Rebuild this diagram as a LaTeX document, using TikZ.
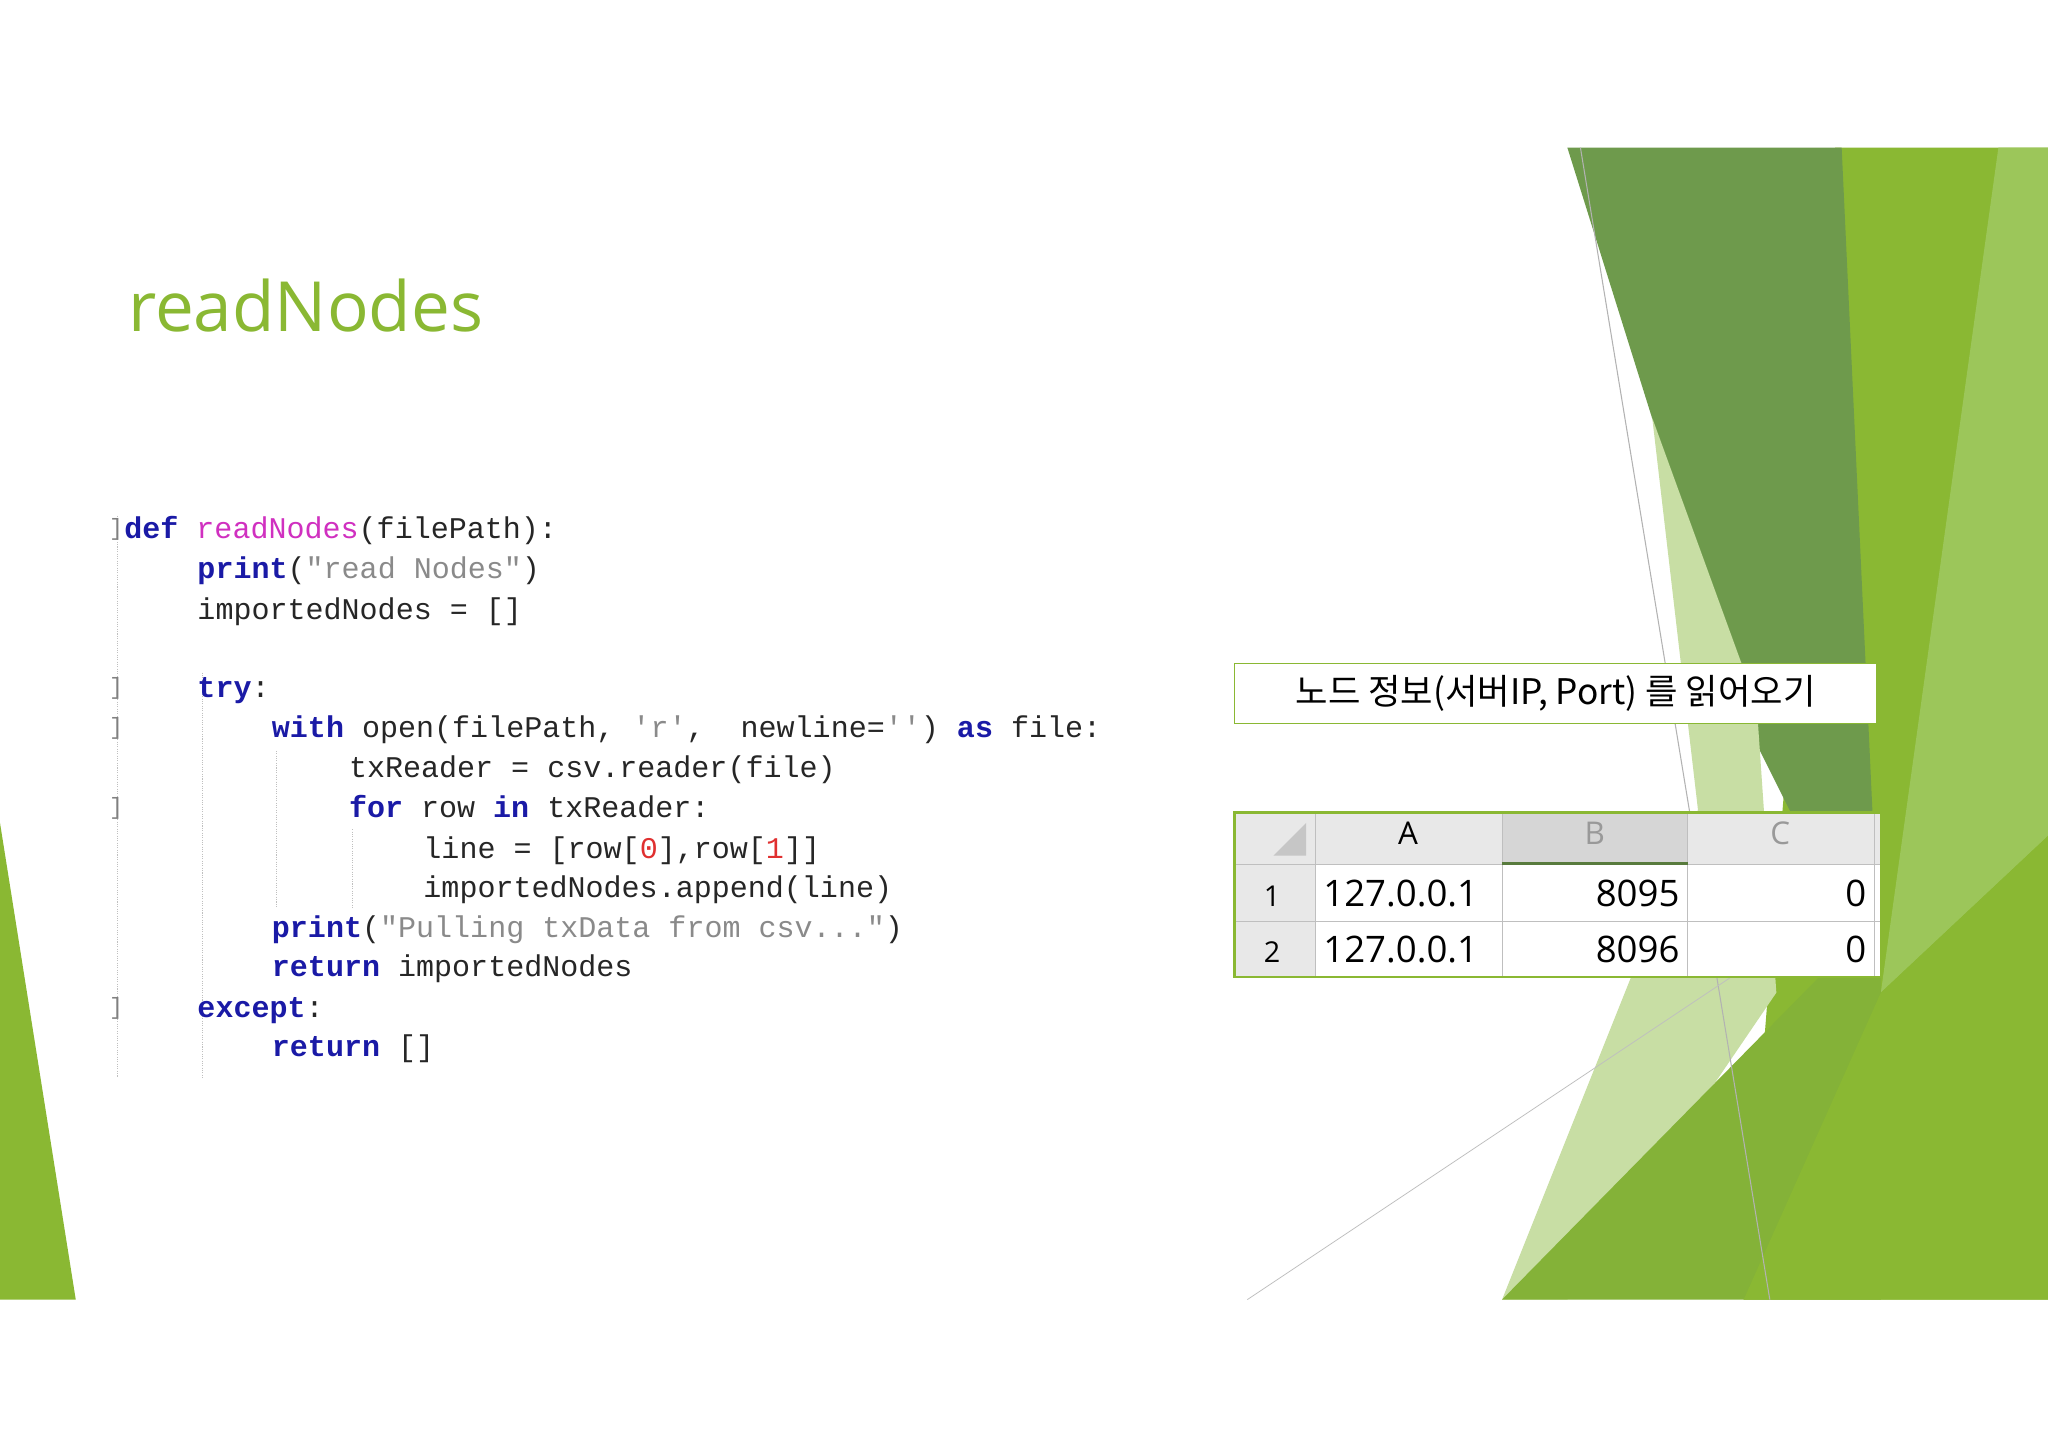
\documentclass[tikz,border=0pt]{standalone}
\usepackage{fontspec}
\setmainfont{Open Sans}
\setmonofont{Liberation Mono}
\newfontfamily\kor{Noto Sans CJK KR}
\definecolor{tgreen}{HTML}{8AB833}
\definecolor{dgreen}{HTML}{6E9A4C}
\definecolor{lgreen}{HTML}{C8DEA4}
\definecolor{mgreen}{HTML}{9CC65A}
\definecolor{kwc}{HTML}{1A1AA6}
\definecolor{fnc}{HTML}{D030C0}
\definecolor{stc}{HTML}{8A8A8A}
\definecolor{nmc}{HTML}{E03030}
\newcommand{\ckw}[1]{\textcolor{kwc}{\bfseries #1}}
\newcommand{\cfn}[1]{\textcolor{fnc}{#1}}
\newcommand{\cst}[1]{\textcolor{stc}{#1}}
\newcommand{\cnm}[1]{\textcolor{nmc}{#1}}
\begin{document}
\begin{tikzpicture}[x=1pt,y=-1pt,
  code/.style={anchor=base west,inner sep=0pt,font=\fontsize{23}{23}\ttfamily,text=black!85},
  guide/.style={gray!50,densely dotted,line width=0.8pt},
  ctext/.style={font=\fontsize{28}{28}\selectfont\rmfamily,inner sep=0pt}]
\useasboundingbox (0,0) rectangle (1568,1108);
\fill[white] (0,0) rectangle (1568,1108);
% right decoration
\fill[tgreen] (1405,113) -- (1568,113) -- (1568,995) -- (1335,995) -- cycle;
\fill[mgreen] (1530,113) -- (1568,113) -- (1568,640) -- (1440,760) -- cycle;
\fill[dgreen] (1200,113) -- (1410,113) -- (1440,760) -- (1340,560) -- cycle;
\fill[lgreen] (1265,320) -- (1345,540) -- (1360,760) -- (1200,995) -- (1150,995) -- (1300,620) -- cycle;
\fill[tgreen!80!dgreen] (1150,995) -- (1440,700) -- (1440,995) -- cycle;
\fill[tgreen] (1335,995) -- (1440,760) -- (1568,640) -- (1568,995) -- cycle;
\draw[gray!60,line width=0.8pt] (1210,113) -- (1355,995);
\draw[gray!50,line width=0.6pt] (955,995) -- (1330,745);
% left triangle
\fill[tgreen] (0,630) -- (58,995) -- (0,995) -- cycle;
% title
\node[anchor=base west,inner sep=0pt,text=tgreen,font=\fontsize{53}{53}\selectfont] (title) at (98,254) {readNodes};
% code guides
\draw[guide] (90,395) -- (90,825);
\draw[guide] (155,515) -- (155,825);
\draw[guide] (212,575) -- (212,695);
\draw[guide] (270,635) -- (270,695);
\foreach \yy in {405,527,558,619,772} \node[font=\fontsize{18}{18}\ttfamily,text=gray,inner sep=0pt] at (89,\yy) {]};
% code
\node[code] (l1) at (95,412) {\ckw{def} \cfn{readNodes}(filePath):};
\node[code] (l2) at (151,443) {\ckw{print}(\cst{"read Nodes"})};
\node[code] (l3) at (151,474) {importedNodes = []};
\node[code] (l4) at (151,534) {\ckw{try}:};
\node[code] (l5) at (208,565) {\ckw{with} open(filePath, \cst{'r'},\ \ newline=\cst{''}) \ckw{as} file:};
\node[code] (l6) at (267,595) {txReader = csv.reader(file)};
\node[code] (l7) at (267,626) {\ckw{for} row \ckw{in} txReader:};
\node[code] (l8) at (324,657) {line = [row[\cnm{0}],row[\cnm{1}]]};
\node[code] (l9) at (324,687) {importedNodes.append(line)};
\node[code] (l10) at (208,718) {\ckw{print}(\cst{"Pulling txData from csv..."})};
\node[code] (l11) at (208,748) {\ckw{return} importedNodes};
\node[code] (l12) at (151,779) {\ckw{except}:};
\node[code] (l13) at (208,809) {\ckw{return} []};
% callout
\node[draw=tgreen,fill=white,line width=1pt,minimum width=492pt,minimum height=46pt,inner sep=0pt,font=\kor\fontsize{27}{27}\selectfont] (call) at (1191,531) {노드 정보(서버IP, Port) 를 읽어오기};
% table
\fill[white] (945,622) rectangle (1440,748);
\fill[gray!18] (945,622) rectangle (1440,662);
\fill[gray!18] (945,622) rectangle (1007,748);
\fill[gray!32] (1150,622) rectangle (1292,662);
\fill[gray!45] (1000,630) -- (1000,655) -- (975,655) -- cycle;
\draw[gray!50] (1007,622) -- (1007,748);
\draw[gray!50] (1150,622) -- (1150,748) (1292,622) -- (1292,748) (1435,622) -- (1435,748);
\draw[gray!50] (945,662) -- (1440,662) (945,705) -- (1440,705);
\draw[dgreen!80!black,line width=2.5pt] (1150,661) -- (1292,661);
\draw[draw=tgreen,line width=2pt] (945,622) rectangle (1440,748);
\node[ctext,font=\fontsize{24}{24}\selectfont] (hA) at (1078,638) {A};
\node[ctext,font=\fontsize{24}{24}\selectfont,text=gray!80] (hB) at (1221,638) {B};
\node[ctext,font=\fontsize{24}{24}\selectfont,text=gray!80] (hC) at (1363,638) {C};
\node[ctext,font=\fontsize{22}{22}\selectfont] (r1) at (974,686) {1};
\node[ctext,font=\fontsize{22}{22}\selectfont] (r2) at (974,729) {2};
\node[ctext,anchor=west] (a1) at (1013,684) {127.0.0.1};
\node[ctext,anchor=east] (b1) at (1286,684) {8095};
\node[ctext,anchor=east] (c1) at (1429,684) {0};
\node[ctext,anchor=west] (a2) at (1013,727) {127.0.0.1};
\node[ctext,anchor=east] (b2) at (1286,727) {8096};
\node[ctext,anchor=east] (c2) at (1429,727) {0};
\end{tikzpicture}
\end{document}
